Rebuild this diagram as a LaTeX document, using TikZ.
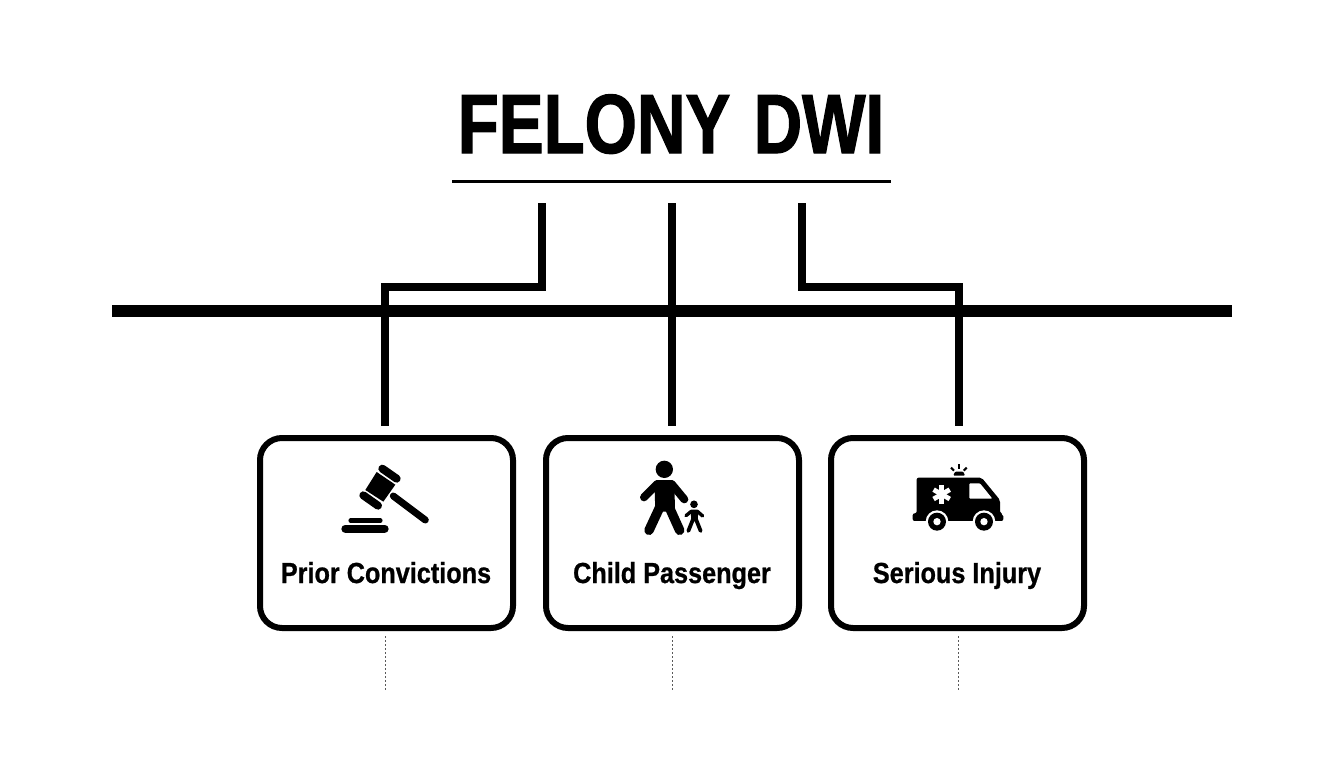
\documentclass[tikz,border=0pt]{standalone}
\usepackage{fontspec}
\setmainfont{Liberation Sans}
\newfontfamily\titlefont[FakeStretch=0.80,WordSpace=1.25,FakeBold=1.4]{Liberation Sans Bold}
\newfontfamily\labelfont[FakeStretch=0.87,FakeBold=0.8]{Liberation Sans Bold}
\tikzset{
  card/.style={draw=black,line width=6pt,rounded corners=22pt,minimum width=253pt,minimum height=190pt,outer sep=0pt,inner sep=0pt},
  cardlabel/.style={font=\labelfont\fontsize{29}{32}\selectfont,inner sep=0pt,anchor=base},
  link/.style={line width=7.8pt,miter limit=10},
  trunk/.style={line width=12pt},
  drop/.style={draw=black!65,line width=1pt,dash pattern=on 2pt off 2pt},
  icon/.style={x=.3333pt,y=-.3333pt}
}
\begin{document}
\begin{tikzpicture}[x=1pt,y=-1pt]
\useasboundingbox[fill=white] (0,0) rectangle (1344,768);
% title
\node[font=\titlefont\fontsize{84}{90}\selectfont,inner sep=0pt,anchor=base] (title) at (671,153) {FELONY DWI};
\coordinate (ruleL) at (452,181);
\coordinate (ruleR) at (891,181);
\draw[line width=3pt] (ruleL) -- (ruleR);
% trunk
\coordinate (trunkL) at (112,311);
\coordinate (trunkR) at (1232,311);
\draw[trunk] (trunkL) -- (trunkR);
% cards
\node[card] (c1) at (386.5,533) {};
\node[card] (c2) at (672.5,533) {};
\node[card] (c3) at (957.5,533) {};
\node[cardlabel] (l1) at (386,583) {Prior Convictions};
\node[cardlabel] (l2) at (672,583) {Child Passenger};
\node[cardlabel] (l3) at (957,583) {Serious Injury};
% connectors
\coordinate (s1) at (542,203);
\coordinate (s2) at (672,203);
\coordinate (s3) at (802,203);
\coordinate (e1) at (385,426);
\coordinate (e2) at (672,426);
\coordinate (e3) at (959,426);
\draw[link] (s1) |- (385,287.3) -- (e1);
\draw[link] (s2) -- (e2);
\draw[link] (s3) |- (959,287.3) -- (e3);
% dotted drops
\coordinate (d1) at (385,690);
\coordinate (d2) at (672,690);
\coordinate (d3) at (958,690);
\draw[drop] (385,636) -- (d1);
\draw[drop] (672,636) -- (d2);
\draw[drop] (958,636) -- (d3);
% gavel
\begin{scope}[shift={(320,450)},icon]
  \fill (170,66) -- (226,104) -- (190,155) -- (136,120) -- cycle;
  \draw[line width=8pt,line cap=round] (187,56) -- (230,86);
  \draw[line width=8pt,line cap=round] (130,136) -- (174,167);
  \draw[line width=7pt,line cap=round] (220,138) -- (316,210);
  \draw[line width=4.5pt,line cap=round] (92,212) -- (181,212);
  \draw[line width=8pt,line cap=round] (76,236) -- (194,236);
\end{scope}
% adult and child
\begin{scope}[shift={(620,450)},icon]
  \fill (133,58) circle[radius=26];
  \fill[rounded corners=3pt] (103,90) -- (163,90) -- (165,185) -- (106,185) -- cycle;
  \draw[line width=8pt,line cap=round,line join=round] (112,102) -- (72,142);
  \draw[line width=8pt,line cap=round,line join=round] (155,102) -- (193,148);
  \draw[line width=9.5pt,line cap=round] (120,170) -- (87,241);
  \draw[line width=9.5pt,line cap=round] (147,170) -- (179,241);
  \fill (222,163) circle[radius=11.5];
  \draw[line width=3.4pt,line cap=round,line join=round] (198,197) -- (214,184) -- (232,184) -- (248,198);
  \fill (212,182) -- (235,182) -- (233,214) -- (214,214) -- cycle;
  \draw[line width=3.8pt,line cap=round] (219,208) -- (205,243);
  \draw[line width=3.8pt,line cap=round] (228,208) -- (242,243);
\end{scope}
% ambulance
\begin{scope}[shift={(900,455)},icon]
  \fill[rounded corners=2pt] (50,175) -- (50,68) -- (245,68) -- (300,135) -- (300,175) -- (310,178) -- (310,198) -- (38,198) -- (38,175) -- cycle;
  \fill[white,rounded corners=1pt] (208,85) -- (240,85) -- (277,131) -- (208,131) -- cycle;
  \foreach \a in {90,30,-30}{
    \draw[white,line width=4.8pt] (125,118) ++(\a:28) -- ++(\a+180:56);
  }
  \foreach \cx in {111,252}{
    \fill[white] (\cx,200) circle[radius=34];
    \fill (\cx,200) circle[radius=27];
    \fill[white] (\cx,200) circle[radius=11];
  }
  \fill[rounded corners=1pt] (160,62) -- (165,50) -- (190,50) -- (195,62) -- cycle;
  \draw[line width=2pt] (177,28) -- (177,41);
  \draw[line width=2pt] (153,38) -- (162,47);
  \draw[line width=2pt] (200,38) -- (191,47);
\end{scope}
\end{tikzpicture}
\end{document}
